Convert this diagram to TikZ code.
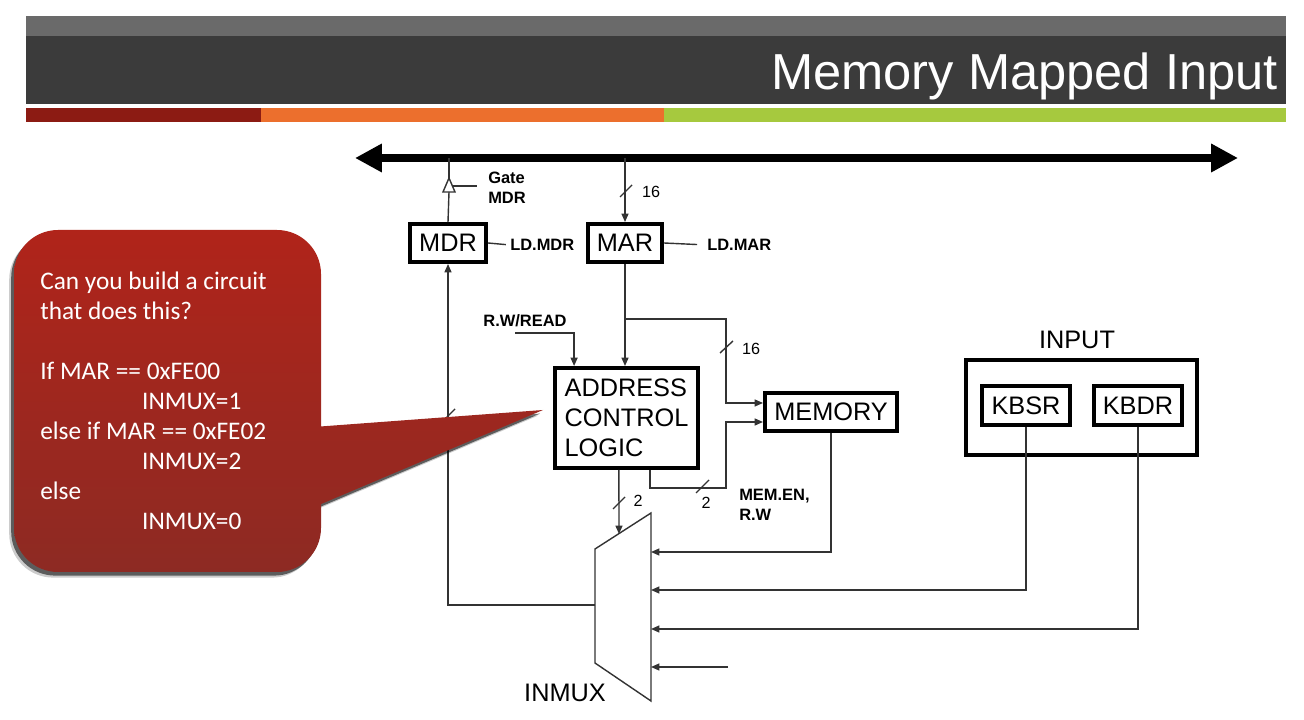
\documentclass[tikz,border=0pt]{standalone}
\usepackage{fontspec}
\setmainfont{Liberation Sans}
\newfontfamily\calloutfont{Carlito}
\usetikzlibrary{arrows.meta,shadows,calc}
\definecolor{hdrdark}{HTML}{3B3B3B}
\definecolor{hdrlight}{HTML}{6A6A6A}
\definecolor{barred}{HTML}{8C1B13}
\definecolor{barorange}{HTML}{EC6F2D}
\definecolor{bargreen}{HTML}{A6C93E}
\definecolor{calltop}{HTML}{B0241A}
\definecolor{callbot}{HTML}{8D2A23}
\definecolor{wiregray}{HTML}{333333}

\begin{document}
\begin{tikzpicture}[x=0.025cm, y=-0.025cm,
      regbox/.style={draw=black, line width=2.8pt, fill=white, inner sep=0pt, font=\fontsize{18}{21.3}\selectfont},
      wire/.style={draw=wiregray, line width=1pt},
      arr/.style={wire, -{Triangle[length=6pt,width=5pt]}},
      sigtext/.style={font=\fontsize{11.7}{14.2}\selectfont\bfseries, inner sep=0pt, align=left},
      widthtext/.style={font=\fontsize{11.5}{14}\selectfont, inner sep=0pt},
      bigtext/.style={font=\fontsize{18}{21.3}\selectfont, inner sep=0pt},
      callout/.style={top color=calltop, bottom color=callbot,
        drop shadow={fill=black, shadow xshift=-0.12cm, shadow yshift=-0.14cm, opacity=0.2},
        drop shadow={fill=black, shadow xshift=-0.07cm, shadow yshift=-0.09cm, opacity=0.55}}]

      \useasboundingbox (0,0) rectangle (1304,720);

      % --- Title bar ---
      \fill[hdrlight] (26,16) rectangle (1286,36);
      \fill[hdrdark] (26,36) rectangle (1286,104);
      \fill[barred] (26,108) rectangle (261,122);
      \fill[barorange] (261,108) rectangle (664,122);
      \fill[bargreen] (664,108) rectangle (1286,122);
      \node[anchor=base east, text=white, inner sep=0pt, font=\fontsize{36}{40}\selectfont] (title) at (1278,90) {Memory Mapped Input};

      % --- Bus ---
      \coordinate (busL) at (355,158);
      \coordinate (busR) at (1238,158);
      \draw[line width=5pt, {Triangle[length=0.67cm,width=0.67cm]}-{Triangle[length=0.67cm,width=0.67cm]}] (busL) -- (busR);

      % --- Registers and blocks ---
      \node[regbox, minimum width=1.9cm, minimum height=0.95cm] (mdr) at (448,243) {MDR};
      \node[regbox, minimum width=1.85cm, minimum height=0.95cm] (mar) at (625,243) {MAR};
      \node[regbox, minimum width=3.575cm, minimum height=2.5cm, align=left] (acl) at (626.5,418) {ADDRESS\\CONTROL\\LOGIC};
      \node[regbox, minimum width=3.3cm, minimum height=0.95cm] (mem) at (831,412) {MEMORY};
      \node[regbox, minimum width=5.775cm, minimum height=2.375cm] (inp) at (1081.5,407.5) {};
      \node[bigtext] (inplabel) at (1077,340) {INPUT};
      \node[regbox, minimum width=2.2cm, minimum height=0.975cm] (kbsr) at (1026,405.5) {KBSR};
      \node[regbox, minimum width=2.2cm, minimum height=0.975cm] (kbdr) at (1138,405.5) {KBDR};

      % --- INMUX ---
      \coordinate (mux1) at (595,549);
      \coordinate (mux2) at (651,513);
      \coordinate (mux3) at (651,701);
      \coordinate (mux4) at (595,663);
      \draw[wire, fill=white] (mux1) -- (mux2) -- (mux3) -- (mux4) -- cycle;
      \node[bigtext] (muxlabel) at (565,693) {INMUX};

      % --- Gate MDR ---
      \coordinate (gbase) at (449,192);
      \coordinate (gtip) at (449,178);
      \coordinate (gctl) at (477,186);
      \draw[wire, fill=white] (443,192) -- (455,192) -- (gtip) -- cycle;
      \draw[wire] (mdr.north) -- (gbase);
      \draw[wire] (gtip) -- (busL -| gtip);
      \draw[wire] (452,186) -- (gctl);
      \node[sigtext, anchor=west] (gatemdr) at (488,188) {Gate\\MDR};

      % --- Load signals ---
      \node[sigtext, anchor=west] (ldmdr) at (510,245) {LD.MDR};
      \draw[wire, shorten >=3pt] (mdr.east) -- (ldmdr.west);
      \node[sigtext, anchor=west] (ldmar) at (707,245) {LD.MAR};
      \draw[wire, shorten >=7pt] (mar.east) -- (ldmar.west);

      % --- Address path ---
      \draw[arr] (busL -| mar.north) -- (mar.north);
      \draw[wire] (620,197) -- (632,185);
      \node[widthtext] (w16a) at (651,192) {16};
      \draw[arr] (mar.south) -- (acl.north -| mar.south);
      \coordinate (brk) at (625,319);
      \coordinate (memA) at ([yshift=0.225cm]mem.west);
      \coordinate (memB) at ([yshift=-0.25cm]mem.west);
      \draw[arr] (brk) -| ($(memA)+(-37,0)$) -- (memA);
      \draw[wire] (720,353) -- (733,341);
      \node[widthtext] (w16b) at (751,349) {16};

      % --- Control ---
      \node[sigtext] (rwread) at (525,321) {R.W/READ};
      \coordinate (rwstart) at (515,333);
      \draw[arr] (rwstart) -| ([xshift=-1.31cm]acl.north);
      \coordinate (aclout) at ([xshift=0.59cm]acl.south);
      \draw[arr] (aclout) -- ++(0,18) -| ($(memB)+(-37,0)$) -- (memB);
      \draw[wire] (696,493) -- (709,480);
      \node[widthtext] (w2b) at (706,503) {2};
      \node[sigtext, anchor=west] (memen) at (739,505) {MEM.EN,\\R.W};
      \coordinate (aclsel) at ([xshift=-0.19cm]acl.south);
      \coordinate (muxsel) at (619,534);
      \draw[arr] (aclsel) -- (muxsel);
      \draw[wire] (613,509) -- (625,497);
      \node[widthtext] (w2a) at (638,501) {2};

      % --- Mux inputs and output ---
      \coordinate (muxin0) at (651,552);
      \coordinate (muxin1) at (651,590);
      \coordinate (muxin2) at (651,629);
      \coordinate (muxin3) at (651,667);
      \coordinate (spare) at (728,667);
      \coordinate (muxout) at (595,605);
      \draw[arr] (mem.south) |- (muxin0);
      \draw[arr] (kbsr.south) |- (muxin1);
      \draw[arr] (kbdr.south) |- (muxin2);
      \draw[arr] (spare) -- (muxin3);
      \draw[arr] (muxout) -| (mdr.south);
      \draw[wire] (443,421) -- (455,409);

      % --- Callout ---
      \shade[callout] [rounded corners=1.1cm] (14,230) -- (321,230) -- (321,572) -- (14,572) -- cycle
        [sharp corners] (300,428) -- (543,410) -- (300,513) -- cycle;
      \node[anchor=north west, text=white, inner sep=0pt, align=left, font=\calloutfont\fontsize{18}{21.3}\selectfont] (calltext) at (40,272)
        {Can you build a circuit\\that does this?\\[21.3pt]If MAR == 0xFE00\\\hspace*{72.5pt}INMUX=1\\else if MAR == 0xFE02\\\hspace*{72.5pt}INMUX=2\\else\\\hspace*{72.5pt}INMUX=0};

    \end{tikzpicture}
\end{document}
